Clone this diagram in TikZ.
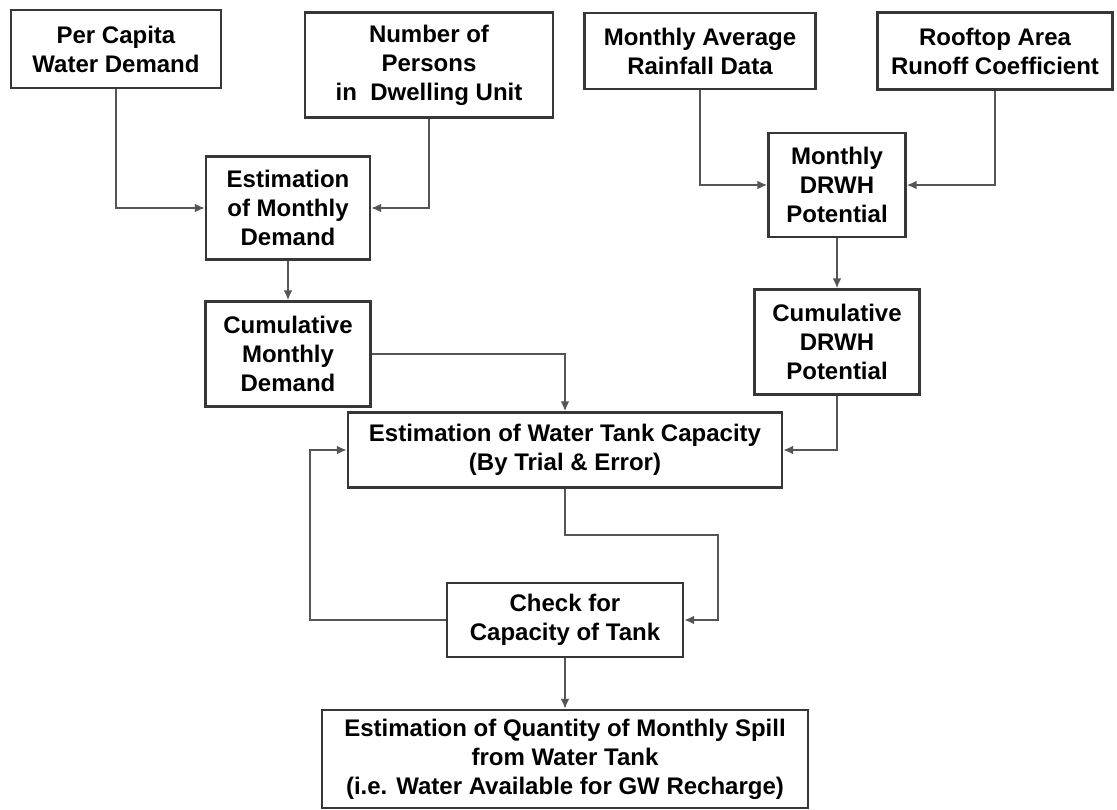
\documentclass[tikz,border=0pt]{standalone}
\usepackage{fontspec}
\setmainfont{Liberation Sans}
\usetikzlibrary{arrows.meta, positioning, calc}

\definecolor{boxgray}{RGB}{55,55,55}
\definecolor{linegray}{RGB}{85,85,85}

\begin{document}
\begin{tikzpicture}[
    x=1pt, y=-1pt,
    box/.style={draw=boxgray, line width=2.4pt, fill=white, align=center, inner sep=0pt,
                font=\bfseries\fontsize{24}{29}\selectfont},
    conn/.style={draw=linegray, line width=2.2pt, -{Latex[length=10pt,width=9pt]}}
]
\useasboundingbox (0,0) rectangle (1117,810);

% 左侧：需水量
\node[box, minimum width=210, minimum height=78] (pcw) at (116,49) {Per Capita\\Water Demand};
\node[box, minimum width=248, minimum height=105] (npd) at (429,65) {Number of\\Persons\\in~~Dwelling Unit};
\node[box, minimum width=164, minimum height=103] (emd) at (288,208) {Estimation\\of Monthly\\Demand};
\node[box, minimum width=165, minimum height=105] (cmd) at (288,354) {Cumulative\\Monthly\\Demand};

% 右侧：集雨潜力
\node[box, minimum width=231, minimum height=76] (mar) at (700,51) {Monthly Average\\Rainfall Data};
\node[box, minimum width=235, minimum height=77] (rac) at (995,51) {Rooftop Area\\Runoff Coefficient};
\node[box, minimum width=137, minimum height=104] (mdp) at (837,185) {Monthly\\DRWH\\Potential};
\node[box, minimum width=165, minimum height=105] (cdp) at (837,342) {Cumulative\\DRWH\\Potential};

% 中间：水箱容量
\node[box, minimum width=434, minimum height=75] (etc) at (565,450) {Estimation of Water Tank Capacity\\(By Trial \& Error)};
\node[box, minimum width=236, minimum height=74] (cct) at (565,620) {Check for\\Capacity of Tank};
\node[box, minimum width=486, minimum height=98] (eqs) at (565,759) {Estimation of Quantity of Monthly Spill\\from Water Tank\\(i.e. Water Available for GW Recharge)};

% 回路拐点
\coordinate (rloop) at (718,535);
\coordinate (lloop) at (310,620);

% 连线
\draw[conn] (pcw.south) |- (emd.west);
\draw[conn] (npd.south) |- (emd.east);
\draw[conn] (emd.south) -- (cmd.north);
\draw[conn] (mar.south) |- (mdp.west);
\draw[conn] (rac.south) |- (mdp.east);
\draw[conn] (mdp.south) -- (cdp.north);
\draw[conn] (cmd.east) -| (etc.north);
\draw[conn] (cdp.south) |- (etc.east);
\draw[conn] (etc.south) |- (rloop) |- (cct.east);
\draw[conn] (cct.west) -- (lloop) |- (etc.west);
\draw[conn] (cct.south) -- (eqs.north);
\end{tikzpicture}
\end{document}
